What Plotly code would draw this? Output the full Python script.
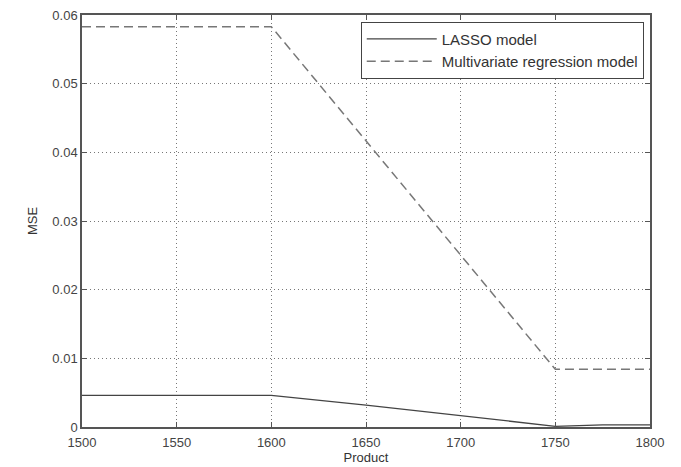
import plotly.graph_objects as go

products = [1500, 1600, 1650, 1700, 1750, 1775, 1800]
lasso_mse = [0.0046, 0.0046, 0.0032, 0.0017, 0.0001, 0.0003, 0.0003]
mvr_products = [1500, 1600, 1750, 1800]
mvr_mse = [0.0583, 0.0583, 0.0084, 0.0084]
x_ticks = [1500, 1550, 1600, 1650, 1700, 1750, 1800]
y_ticks = [0, 0.01, 0.02, 0.03, 0.04, 0.05, 0.06]
y_tick_text = ["0", "0.01", "0.02", "0.03", "0.04", "0.05", "0.06"]

fig = go.Figure()
fig.add_trace(go.Scatter(x=products, y=lasso_mse, mode="lines", name="LASSO model",
                         line=dict(color="#444444", width=1.3)))
fig.add_trace(go.Scatter(x=mvr_products, y=mvr_mse, mode="lines", name="Multivariate regression model",
                         line=dict(color="#777777", width=1.5, dash="9px,5px")))

axis_common = dict(showline=True, linecolor="#555555", linewidth=1.5, mirror="ticks",
                   ticks="inside", ticklen=5, tickcolor="#555555",
                   showgrid=True, gridcolor="#777777", griddash="1px,3px", gridwidth=1,
                   zeroline=False, tickfont=dict(size=13, color="#444444"))

fig.update_xaxes(range=[1500, 1800], tickvals=x_ticks, ticklabelstandoff=3, automargin=False,
                 title=dict(text="Product", standoff=2, font=dict(size=13, color="#333333")), **axis_common)
fig.update_yaxes(range=[0, 0.06], tickvals=y_ticks, ticktext=y_tick_text, automargin=False,
                 title=dict(text="MSE", standoff=12, font=dict(size=13, color="#333333")), **axis_common)

fig.update_layout(
    width=681, height=467,
    margin=dict(l=82, r=31, t=15, b=40),
    paper_bgcolor="white", plot_bgcolor="white",
    font=dict(family="Liberation Sans, Arial, sans-serif", color="#333333"),
    legend=dict(x=0.989, y=0.984, xanchor="right", yanchor="top",
                bgcolor="white", bordercolor="#444444", borderwidth=1,
                font=dict(size=15, color="#333333"), tracegroupgap=0,
                itemwidth=70),
    showlegend=True,
)

fig.write_html("out.html")
